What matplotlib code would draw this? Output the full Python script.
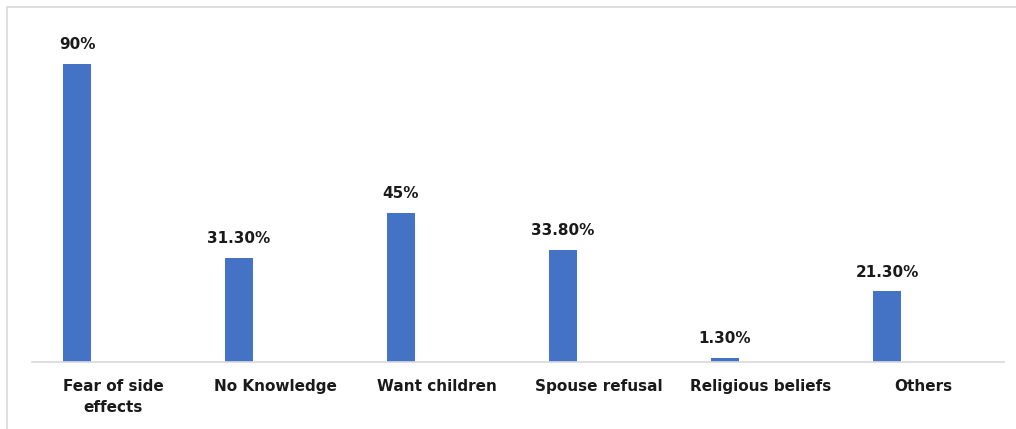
import numpy as np
import matplotlib
matplotlib.use('Agg')
import matplotlib.pyplot as plt
from matplotlib.patches import Rectangle

# reasons for not using contraception, percentages
categories = ['Fear of side\neffects', 'No Knowledge', 'Want children',
              'Spouse refusal', 'Religious beliefs', 'Others']
values = [90, 31.3, 45, 33.8, 1.3, 21.3]
value_labels = ['90%', '31.30%', '45%', '33.80%', '1.30%', '21.30%']

fig = plt.figure(figsize=(10.16, 4.29), dpi=100)
W, H = 1016, 429

# light grey frame around the chart (cut off at right and bottom like the source)
fig.patches.append(Rectangle((7 / W, -0.05), 1.1, 1 - 7 / H + 0.05,
                             transform=fig.transFigure, fill=False,
                             edgecolor='#d9d9d9', linewidth=1.2))

ax = fig.add_axes([32 / W, 67 / H, (1004 - 32) / W, 331 / H])

x = np.arange(len(categories))
offset = -0.222
ax.bar(x + offset, values, width=0.173, color='#4472C4')

for xi, v, lab in zip(x, values, value_labels):
    ax.annotate(lab, (xi + offset, v), xytext=(0, 14), textcoords='offset points',
                ha='center', va='center', fontsize=11, fontweight='bold',
                color='#1a1a1a')

ax.set_xlim(-0.5, len(categories) - 0.5)
ax.set_ylim(0, 100)
ax.set_xticks(x)
ax.set_xticklabels(categories, fontsize=11, fontweight='bold', color='#1a1a1a',
                   linespacing=1.5)
ax.tick_params(axis='x', length=0, pad=12)
ax.set_yticks([])
for s in ['top', 'right', 'left']:
    ax.spines[s].set_visible(False)
ax.spines['bottom'].set_color('#d9d9d9')
ax.spines['bottom'].set_linewidth(1.2)

fig.savefig('out.png', dpi=100)
